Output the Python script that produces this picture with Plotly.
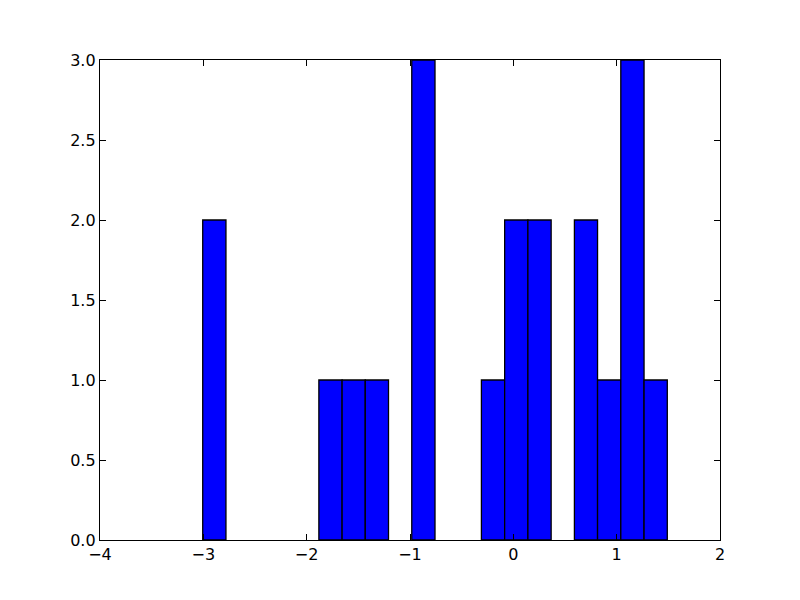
import plotly.graph_objects as go

bin_edges = [-3.006, -2.781, -2.557, -2.332, -2.107, -1.882, -1.657, -1.433,
             -1.208, -0.983, -0.758, -0.533, -0.309, -0.084, 0.141, 0.366,
             0.591, 0.815, 1.040, 1.265, 1.490]
counts = [2, 0, 0, 0, 0, 1, 1, 1, 0, 3, 0, 0, 1, 2, 2, 0, 2, 1, 3, 1]
x_ticks = [-4, -3, -2, -1, 0, 1, 2]
y_ticks = [0.0, 0.5, 1.0, 1.5, 2.0, 2.5, 3.0]

centers = [(a + b) / 2 for a, b in zip(bin_edges[:-1], bin_edges[1:])]
widths = [b - a for a, b in zip(bin_edges[:-1], bin_edges[1:])]
edge_widths = [1.3 if c > 0 else 0 for c in counts]

fig = go.Figure(go.Bar(
    x=centers, y=counts, width=widths,
    marker=dict(color="#0000ff", line=dict(color="black", width=edge_widths)),
))

axis_common = dict(
    showgrid=False, zeroline=False, showline=True, linecolor="black", linewidth=1.3,
    ticks="inside", ticklen=6, tickcolor="black", tickwidth=1, mirror="ticks",
    tickfont=dict(family="DejaVu Sans", size=16, color="black"),
)

fig.update_layout(
    width=800, height=600,
    margin=dict(l=92, r=88, t=52, b=68),
    plot_bgcolor="white", paper_bgcolor="white",
    showlegend=False,
    xaxis=dict(range=[-4, 2], tickvals=x_ticks, **axis_common),
    yaxis=dict(range=[0, 3], tickvals=y_ticks, tickformat=".1f", **axis_common),
)

fig.write_html("out.html")
